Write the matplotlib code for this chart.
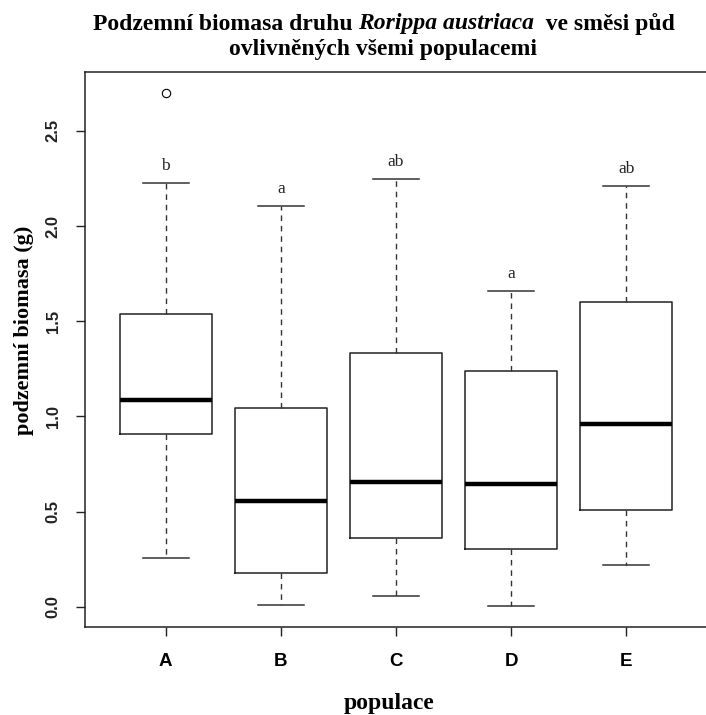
import numpy as np
import matplotlib.pyplot as plt

# values
populace = ["A", "B", "C", "D", "E"]
q1 = [0.909, 0.179, 0.361, 0.305, 0.508]
median = [1.088, 0.555, 0.655, 0.646, 0.958]
q3 = [1.540, 1.046, 1.332, 1.240, 1.600]
whisker_low = [0.258, 0.007, 0.055, 0.005, 0.219]
whisker_high = [2.228, 2.107, 2.248, 1.661, 2.212]
outliers = [[2.698], [], [], [], []]
letters = ["b", "a", "ab", "a", "ab"]

plt.rcParams["font.family"] = ["Liberation Serif", "DejaVu Serif"]

fig = plt.figure(figsize=(7.06, 7.15), dpi=100)
ax = fig.add_axes([0.1204, 0.1235, 0.8810, 0.7754])

stats = []
for i in range(len(populace)):
    stats.append(dict(med=median[i], q1=q1[i], q3=q3[i],
                      whislo=whisker_low[i], whishi=whisker_high[i],
                      fliers=outliers[i], label=populace[i]))

pos = np.arange(1, len(populace) + 1)
ax.bxp(stats, positions=pos, widths=0.8, capwidths=0.4, showfliers=True,
       boxprops=dict(color="#222222", linewidth=1.1),
       medianprops=dict(color="black", linewidth=3.2, solid_capstyle="butt"),
       whiskerprops=dict(color="#333333", linewidth=1.0, linestyle=(0, (4, 3.5))),
       capprops=dict(color="#333333", linewidth=1.1),
       flierprops=dict(marker="o", markersize=6, markerfacecolor="none",
                       markeredgecolor="black", markeredgewidth=0.8))

# significance letters above the upper whiskers
for i in range(len(populace)):
    ax.text(pos[i], whisker_high[i] + 0.065, letters[i], ha="center", va="baseline",
            fontsize=12.5, color="#222222")

ax.set_xlim(0.3, 5.7)
ax.set_ylim(-0.105, 2.808)
ax.set_xticks(pos)
ax.set_xticklabels(populace, family=["Liberation Sans"], fontweight="bold", fontsize=13.5)
ax.set_yticks([0.0, 0.5, 1.0, 1.5, 2.0, 2.5])
ax.set_yticklabels(["0.0", "0.5", "1.0", "1.5", "2.0", "2.5"], rotation=90,
                   va="center", family=["Liberation Sans"], fontweight="bold",
                   fontsize=12, color="#222222")
ax.tick_params(length=6.5, width=1.0, color="#222222")
ax.tick_params(axis="y", pad=11)
ax.tick_params(axis="x", pad=12.5)
for s in ax.spines.values():
    s.set_linewidth(1.1)
    s.set_color("#222222")

# axis titles
fig.text(24 / 706, 1 - 330 / 715, "podzemní biomasa (g)", rotation=90, fontsize=16,
         fontweight="bold", ha="center", va="center")
fig.text(389 / 706, 1 - 704 / 715, "populace", fontsize=17, fontweight="bold",
         ha="center", va="center")

# two-line title with italic species name
fig.canvas.draw()
r = fig.canvas.get_renderer()
parts = [("Podzemní biomasa druhu ", "normal"), ("Rorippa austriaca", "italic"),
         ("  ve směsi půd", "normal")]
tsize = 17
texts = [fig.text(0, 1 - 24 / 715, p, fontsize=tsize, fontweight="bold", style=st,
                  va="center") for p, st in parts]
widths = [t.get_window_extent(r).width for t in texts]
x0 = 384 - sum(widths) / 2
for t, w in zip(texts, widths):
    t.set_x(x0 / fig.bbox.width)
    x0 += w
fig.text(383 / 706, 1 - 50 / 715, "ovlivněných všemi populacemi", fontsize=tsize,
         fontweight="bold", ha="center", va="center")

fig.savefig("out.png", dpi=100)
